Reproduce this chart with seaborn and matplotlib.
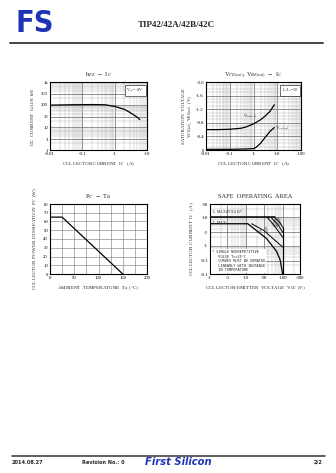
import numpy as np
import pandas as pd
import matplotlib
matplotlib.use("Agg")
import matplotlib.pyplot as plt
import seaborn as sns
from matplotlib.ticker import FixedLocator, MultipleLocator, LogLocator, NullFormatter

# ---------------- data ----------------
hfe_ic = [0.01, 0.02, 0.05, 0.1, 0.2, 0.5, 1, 2, 3, 5, 6]
hfe_val = [95, 97, 99, 100, 101, 99, 84, 62, 45, 28, 22]

vbe_ic = [0.01, 0.03, 0.1, 0.3, 0.5, 1, 2, 3, 5, 7.5]
vbe_val = [-0.60, -0.60, -0.61, -0.64, -0.68, -0.77, -0.89, -0.99, -1.14, -1.33]
vce_ic = [0.01, 0.1, 0.5, 1, 1.3, 2, 3, 5, 7.5]
vce_val = [-0.02, -0.02, -0.03, -0.04, -0.08, -0.20, -0.36, -0.55, -0.66]

pc_ta = [0, 25, 150]
pc_val = [65, 65, 0]

soa_dc_v = [1, 11, 20, 36, 68, 85, 100]
soa_dc_i = [6, 6, 3.25, 1.8, 0.63, 0.32, 0.1]
soa_5ms_v = [14, 30, 60, 100]
soa_5ms_i = [6, 3.5, 1.6, 0.9]
soa_pulse_v = [1, 60]
soa_pulse_i = [10, 10]
soa_1ms_v = [38, 60, 100]
soa_1ms_i = [10, 5, 2]
soa_500_v = [48, 75, 100]
soa_500_i = [10, 5.5, 3]
soa_100_v = [60, 85, 100]
soa_100_i = [10, 6.5, 4.5]
soa_vceo_v = [100, 100]
soa_vceo_i = [0.1, 4.5]

hfe_xticks = [0.01, 0.1, 1, 10]
hfe_xlabels = ["-0.01", "-0.1", "-1", "-10"]
hfe_yticks = [1, 3, 10, 30, 100, 300, 1000]
hfe_ylabels = ["1", "3", "10", "30", "100", "300", "1k"]
sat_xticks = [0.01, 0.1, 1, 10, 100]
sat_xlabels = ["-0.01", "-0.1", "-1", "-10", "-100"]
sat_yticks = [0, -0.4, -0.8, -1.2, -1.6, -2.0]
sat_ylabels = ["0", "-0.4", "-0.8", "-1.2", "-1.6", "-2.0"]
pc_xticks = [0, 50, 100, 150, 200]
pc_yticks = [0, 10, 20, 30, 40, 50, 60, 70, 80]
soa_xticks = [1, 3, 10, 30, 100, 300]
soa_xlabels = ["-1", "-3", "-10", "-30", "-100", "-300"]
soa_yticks = [0.1, 0.3, 1, 3, 10, 30]
soa_ylabels = ["-0.1", "-0.3", "-1", "-3", "-10", "-30"]

# ---------------- style ----------------
sns.set_theme(style="white")
plt.rcParams["font.family"] = ["Liberation Serif", "DejaVu Serif"]
plt.rcParams["mathtext.fontset"] = "stix"

W, H = 336, 473
fig = plt.figure(figsize=(W / 100, H / 100), dpi=100)
fig.patch.set_facecolor("white")


def axpos(l, t, r, b):
    return [l / W, 1 - b / H, (r - l) / W, (b - t) / H]


TICK = 3.4
LAB = 3.6
TIT = 4.6


def style(ax):
    for s in ax.spines.values():
        s.set_color("black")
        s.set_linewidth(0.8)
    ax.tick_params(which="both", length=0, labelsize=TICK, pad=1.5, colors="black")
    ax.set_facecolor("white")


def loggrid(ax):
    ax.grid(which="major", color="#555555", lw=0.45)
    ax.grid(which="minor", color="#aaaaaa", lw=0.3)


# ---------- chart 1: hFE - Ic ----------
ax1 = fig.add_axes(axpos(50, 82, 147, 150))
sns.lineplot(x=hfe_ic, y=hfe_val, ax=ax1, color="black", lw=0.9)
ax1.set_xscale("log")
ax1.set_yscale("log")
ax1.set_xlim(0.01, 10)
ax1.set_ylim(1, 1000)
ax1.xaxis.set_major_locator(FixedLocator(hfe_xticks))
ax1.set_xticklabels(hfe_xlabels)
ax1.yaxis.set_major_locator(FixedLocator(hfe_yticks))
ax1.set_yticklabels(hfe_ylabels)
ax1.xaxis.set_minor_locator(LogLocator(base=10, subs=np.arange(2, 10)))
ax1.yaxis.set_minor_locator(LogLocator(base=10, subs=np.arange(2, 10)))
ax1.xaxis.set_minor_formatter(NullFormatter())
ax1.yaxis.set_minor_formatter(NullFormatter())
style(ax1)
loggrid(ax1)
ax1.set_title(r"h$_{FE}$  $-$  I$_C$", fontsize=TIT, pad=4)
ax1.set_xlabel(r"COLLECTOR CURRENT  I$_C$   (A)", fontsize=LAB, labelpad=3)
ax1.set_ylabel(r"DC  CURRENT  GAIN  h$_{FE}$", fontsize=LAB, labelpad=3)
ax1.text(0.97, 0.93, r"V$_{CE}$=-4V", transform=ax1.transAxes, ha="right", va="top",
         fontsize=3.0, bbox=dict(boxstyle="square,pad=0.4", fc="white", ec="black", lw=0.4))

# ---------- chart 2: Vsat - Ic ----------
ax2 = fig.add_axes(axpos(206, 82, 301, 150))
sns.lineplot(x=vbe_ic, y=vbe_val, ax=ax2, color="black", lw=0.9)
sns.lineplot(x=vce_ic, y=vce_val, ax=ax2, color="black", lw=0.9)
ax2.set_xscale("log")
ax2.set_xlim(0.01, 100)
ax2.set_ylim(0, -2.0)
ax2.xaxis.set_major_locator(FixedLocator(sat_xticks))
ax2.set_xticklabels(sat_xlabels)
ax2.xaxis.set_minor_locator(LogLocator(base=10, subs=np.arange(2, 10)))
ax2.xaxis.set_minor_formatter(NullFormatter())
ax2.yaxis.set_major_locator(FixedLocator(sat_yticks))
ax2.set_yticklabels(sat_ylabels)
ax2.yaxis.set_minor_locator(MultipleLocator(0.1))
ax2.yaxis.set_minor_formatter(NullFormatter())
style(ax2)
loggrid(ax2)
ax2.set_title(r"V$_{CE(sat)}$, V$_{BE(sat)}$  $-$  I$_C$", fontsize=TIT, pad=4)
ax2.set_xlabel(r"COLLECTOR CURRENT  I$_C$   (A)", fontsize=LAB, labelpad=3)
ax2.set_ylabel("SATURATION  VOLTAGE\n" + r"V$_{CE(sat)}$, V$_{BE(sat)}$  (V)",
               fontsize=LAB, labelpad=2, linespacing=1.0)
ax2.text(0.97, 0.93, r"I$_C$/I$_B$=10", transform=ax2.transAxes, ha="right", va="top",
         fontsize=3.0, bbox=dict(boxstyle="square,pad=0.4", fc="white", ec="black", lw=0.4))
ax2.text(0.35, -0.86, r"V$_{BE(sat)}$", fontsize=3.2, ha="left", va="bottom")
ax2.text(8.0, -0.62, r"V$_{CE(sat)}$", fontsize=3.2, ha="left", va="center")

# ---------- chart 3: Pc - Ta ----------
ax3 = fig.add_axes(axpos(50, 204, 147, 274))
sns.lineplot(x=pc_ta, y=pc_val, ax=ax3, color="black", lw=0.9)
ax3.set_xlim(0, 200)
ax3.set_ylim(0, 80)
ax3.xaxis.set_major_locator(FixedLocator(pc_xticks))
ax3.yaxis.set_major_locator(FixedLocator(pc_yticks))
ax3.xaxis.set_minor_locator(MultipleLocator(25))
ax3.set_xticklabels([str(v) for v in pc_xticks])
ax3.set_yticklabels([str(v) for v in pc_yticks])
style(ax3)
ax3.grid(which="major", color="#777777", lw=0.4)
ax3.grid(which="minor", axis="x", color="#777777", lw=0.4)
ax3.set_title(r"P$_C$  $-$  Ta", fontsize=TIT, pad=4)
ax3.set_xlabel(r"AMBIENT  TEMPERATURE  Ta  ($\degree$C)", fontsize=LAB, labelpad=3)
ax3.set_ylabel(r"COLLECTOR  POWER  DISSIPATION  P$_C$  (W)", fontsize=LAB, labelpad=3)

# ---------- chart 4: SOA ----------
ax4 = fig.add_axes(axpos(210, 204, 300, 274))
for vv, ii, lw in [(soa_dc_v, soa_dc_i, 0.9), (soa_5ms_v, soa_5ms_i, 0.7),
                   (soa_pulse_v, soa_pulse_i, 1.1), (soa_1ms_v, soa_1ms_i, 0.7),
                   (soa_500_v, soa_500_i, 0.7), (soa_100_v, soa_100_i, 0.7),
                   (soa_vceo_v, soa_vceo_i, 0.9)]:
    sns.lineplot(x=vv, y=ii, ax=ax4, color="black", lw=lw, sort=False, estimator=None)
ax4.set_xscale("log")
ax4.set_yscale("log")
ax4.set_xlim(1, 300)
ax4.set_ylim(0.1, 30)
ax4.xaxis.set_major_locator(FixedLocator(soa_xticks))
ax4.set_xticklabels(soa_xlabels)
ax4.yaxis.set_major_locator(FixedLocator(soa_yticks))
ax4.set_yticklabels(soa_ylabels)
ax4.xaxis.set_minor_locator(LogLocator(base=10, subs=np.arange(2, 10)))
ax4.yaxis.set_minor_locator(LogLocator(base=10, subs=np.arange(2, 10)))
ax4.xaxis.set_minor_formatter(NullFormatter())
ax4.yaxis.set_minor_formatter(NullFormatter())
style(ax4)
loggrid(ax4)
ax4.set_title("SAFE  OPERATING  AREA", fontsize=TIT, pad=4)
ax4.set_xlabel(r"COLLECTOR-EMITTER  VOLTAGE  V$_{CE}$  (V)", fontsize=LAB, labelpad=3)
ax4.set_ylabel(r"COLLECTOR  CURRENT  I$_C$   (A)", fontsize=LAB, labelpad=3)
ax4.text(1.15, 11.5, r"I$_C$ MAX(PULSE)*", fontsize=2.8, ha="left", va="bottom")
ax4.text(1.15, 8.6, r"I$_C$ MAX", fontsize=2.8, ha="left", va="top")
for (x, y, s) in [(22, 3.2, "DC"), (33, 3.9, "5ms"), (50, 5.5, "1ms"),
                  (62, 6.3, "500μs"), (74, 7.6, "100μs")]:
    ax4.text(x, y, s, fontsize=2.2, rotation=-62, ha="center", va="center",
             family=["DejaVu Sans"])
ax4.text(1.12, 0.115,
         "* SINGLE NONREPETITIVE\n   PULSE Tc=25°C\n   CURVES MUST BE DERATED\n"
         "   LINEARLY WITH INCREASE\n   IN TEMPERATURE",
         fontsize=2.6, ha="left", va="bottom", linespacing=1.15,
         family=["DejaVu Sans Mono"],
         bbox=dict(boxstyle="square,pad=0.3", fc="white", ec="none"))

# ---------------- page decoration ----------------
fig.text(15 / W, 1 - 23 / H, "FS", fontsize=22, fontweight="black", color="#1f33b5",
         family=["DejaVu Sans"], ha="left", va="center", fontstretch="condensed")
fig.text(176 / W, 1 - 25 / H, "TIP42/42A/42B/42C", fontsize=6.5, fontweight="bold",
         ha="center", va="center", family=["Liberation Serif"])
fig.add_artist(plt.Line2D([10 / W, 323 / W], [1 - 43 / H, 1 - 43 / H],
                          color="#444444", lw=1.4, transform=fig.transFigure))
fig.add_artist(plt.Line2D([12 / W, 325 / W], [1 - 456 / H, 1 - 456 / H],
                          color="#444444", lw=1.2, transform=fig.transFigure))
fig.text(12 / W, 1 - 462 / H, "2014.08.27", fontsize=3.6, fontweight="bold",
         ha="left", va="center", family=["DejaVu Sans"])
fig.text(82 / W, 1 - 462 / H, "Revision No.: 0", fontsize=3.6, fontweight="bold",
         ha="left", va="center", family=["DejaVu Sans"])
fig.text(145 / W, 1 - 462 / H, "First Silicon", fontsize=7.2, fontweight="bold",
         style="italic", color="#1f33b5", ha="left", va="center", family=["DejaVu Sans"])
fig.text(322 / W, 1 - 462 / H, "2/2", fontsize=3.6, fontweight="bold",
         ha="right", va="center", family=["DejaVu Sans"])

fig.savefig("out.png", dpi=100, facecolor="white")
